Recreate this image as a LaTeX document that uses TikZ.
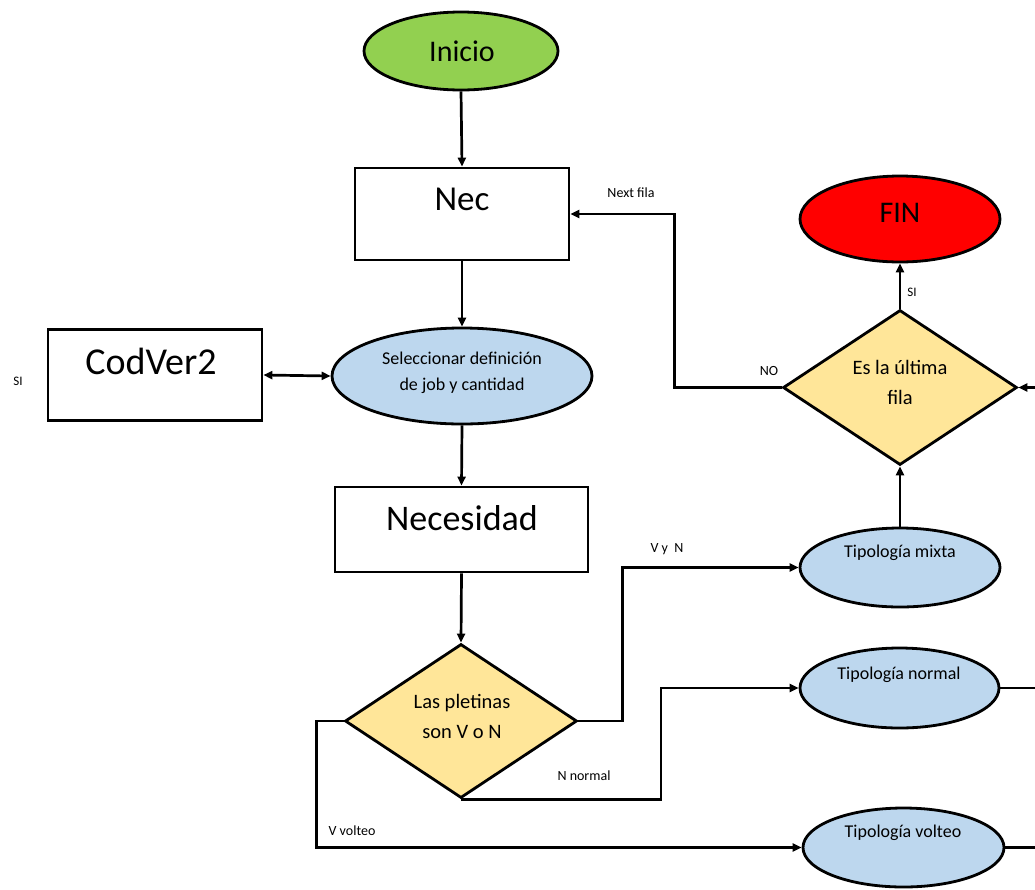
\documentclass[tikz,border=0pt]{standalone}
\usepackage{fontspec}
\setmainfont{Carlito}
\usetikzlibrary{shapes.geometric,arrows.meta}
\definecolor{startgreen}{HTML}{92D050}
\definecolor{endred}{HTML}{FF0000}
\definecolor{procblue}{HTML}{BDD7EE}
\definecolor{askyellow}{HTML}{FFE699}
\begin{document}
\begin{tikzpicture}[x=1pt,y=-1pt,
  flowline/.style={line width=2.7pt,-{Triangle[length=9pt,width=8pt]}},
  plainline/.style={line width=2.7pt},
  oval/.style={ellipse,draw,line width=2.8pt,inner sep=0pt},
  boxnode/.style={rectangle,draw,line width=2.8pt,fill=white,inner sep=0pt},
  decision/.style={diamond,draw,line width=2.8pt,fill=askyellow,inner sep=0pt,aspect=1.5},
  bigtxt/.style={font=\fontsize{36}{40}\selectfont},
  midtxt/.style={font=\fontsize{20.5}{30}\selectfont,align=center},
  smalltxt/.style={font=\fontsize{18}{26}\selectfont,align=center},
  lbl/.style={font=\fontsize{14}{16}\selectfont},
]
\useasboundingbox (0,0) rectangle (1035,889);

% main column
\node[oval,fill=startgreen,minimum width=194pt,minimum height=78pt] (inicio) at (461,51) {};
\node[font=\fontsize{30}{34}\selectfont] (tinicio) at (462,51) {Inicio};

\node[boxnode,minimum width=214pt,minimum height=92pt] (nec) at (462,214) {};
\node[font=\fontsize{35}{40}\selectfont] (tnec) at (462,199) {Nec};

\node[oval,fill=procblue,minimum width=260pt,minimum height=96pt] (sel) at (462,376) {};
\node[smalltxt] (tsel) at (462,373) {Seleccionar definición\\de job y cantidad};

\node[boxnode,minimum width=214pt,minimum height=91pt] (cod) at (155,375) {};
\node[font=\fontsize{38}{42}\selectfont] (tcod) at (151,361) {CodVer2};
\node[font=\fontsize{13}{15}\selectfont] (lsi1) at (18,381) {SI};

\node[boxnode,minimum width=253pt,minimum height=85pt] (necs) at (461.5,529.5) {};
\node[bigtxt] (tnecs) at (462,518) {Necesidad};

\node[decision,minimum width=232pt,minimum height=154pt] (q1) at (461,721) {};
\node[midtxt] (tq1) at (462,716) {Las pletinas\\son V o N};

% right column
\node[oval,fill=endred,minimum width=200pt,minimum height=86pt] (fin) at (900,219) {};
\node[font=\fontsize{30}{34}\selectfont] (tfin) at (900,213) {FIN};

\node[decision,minimum width=234pt,minimum height=155pt] (q2) at (900,387.5) {};
\node[midtxt] (tq2) at (900,382) {Es la última\\fila};

\node[oval,fill=procblue,minimum width=200pt,minimum height=79pt] (mixta) at (900,567.5) {};
\node[smalltxt] (tmixta) at (900,553) {Tipología mixta};

\node[oval,fill=procblue,minimum width=199pt,minimum height=80pt] (normal) at (899.5,688) {};
\node[smalltxt] (tnormal) at (899,675) {Tipología normal};

\node[oval,fill=procblue,minimum width=201pt,minimum height=79pt] (volteo) at (903.5,847.5) {};
\node[smalltxt] (tvolteo) at (903,833) {Tipología volteo};

% loose ends at the right margin
\coordinate (normout) at (1035,688);
\coordinate (volout) at (1035,847.5);
\coordinate (q2in) at (1035,387.5);

% connectors
\draw[flowline] (inicio.south) -- (nec.north);
\draw[flowline] (nec.south) -- (sel.north);
\draw[flowline] (sel.south) -- (necs.north);
\draw[flowline] (necs.south) -- (q1.north);
\draw[line width=2.7pt,{Triangle[length=9pt,width=8pt]}-{Triangle[length=9pt,width=8pt]}] (cod.east) -- (sel.west);

\draw[flowline] (q1.east) -- ++(44,0) |- (mixta.west);
\draw[flowline] (q1.south) -- ++(200,0) |- (normal.west);
\draw[flowline] (q1.west) -- ++(-27,0) |- (volteo.west);

\draw[plainline] (normal.east) -- (normout);
\draw[plainline] (volteo.east) -- (volout);

\draw[flowline] (mixta.north) -- (q2.south);
\draw[flowline] (q2.north) -- (fin.south);
\draw[flowline] (q2in) -- (q2.east);
\draw[flowline] (q2.west) -- ++(-107,0) |- (nec.east);

% branch labels
\node[lbl] (lnext) at (631,193) {Next fila};
\node[lbl] (lno) at (769,371) {NO};
\node[font=\fontsize{13}{15}\selectfont] (lsi2) at (912,292) {SI};
\node[lbl] (lvyn) at (667,549) {V y~ N};
\node[lbl] (lnorm) at (584,776) {N normal};
\node[lbl] (lvolt) at (352,831) {V volteo};
\end{tikzpicture}
\end{document}
